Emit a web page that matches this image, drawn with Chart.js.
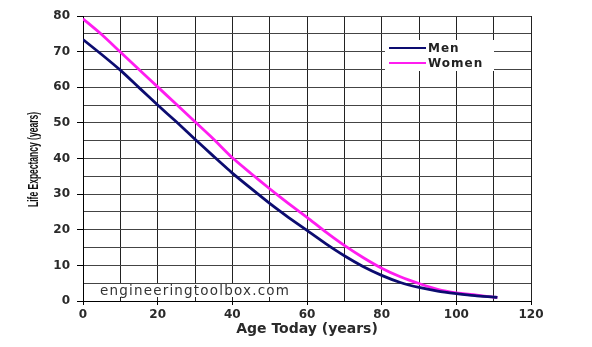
<!DOCTYPE html>
<html>
<head>
<meta charset="utf-8">
<script src="https://cdn.jsdelivr.net/npm/chart.js@4.4.0/dist/chart.umd.min.js"></script>
<style>
html,body{margin:0;padding:0;background:#fff;}
#wrap{width:592px;height:347px;position:relative;}
</style>
</head>
<body>
<div id="wrap"><canvas id="c" width="592" height="347"></canvas></div>
<script>
const ages = [0,5,10,15,20,25,30,35,40,45,50,55,60,65,70,75,80,85,90,95,100,105,110,111];
const men = [73.4,69.2,64.8,59.9,55.0,50.3,45.4,40.6,35.9,31.6,27.4,23.5,19.8,16.1,12.7,9.7,7.2,5.2,3.8,2.8,2.1,1.5,1.1,1.0];
const women = [79.2,74.8,69.9,65.0,60.1,55.2,50.3,45.4,40.2,35.8,31.5,27.4,23.5,19.4,15.6,12.2,9.2,6.8,4.9,3.3,2.3,1.7,1.1,1.0];
const seriesNames = ['Men','Women'];
const xTitle = 'Age Today (years)';
const yTitle = 'Life Expectancy (years)';
const watermark = 'engineeringtoolbox.com';

const decorPlugin = {
  id: 'decor',
  afterDraw(chart) {
    const ctx = chart.ctx;
    const area = chart.chartArea;
    ctx.save();
    // legend inside plot
    ctx.fillStyle = '#fff';
    ctx.fillRect(385, 40, 109, 31);
    chart.data.datasets.forEach((ds, i) => {
      const y = 48 + i * 15;
      ctx.strokeStyle = ds.borderColor;
      ctx.lineWidth = 2;
      ctx.beginPath();
      ctx.moveTo(389, y);
      ctx.lineTo(426, y);
      ctx.stroke();
      ctx.fillStyle = '#222';
      ctx.font = 'bold 12px "DejaVu Sans", Verdana, sans-serif';
      ctx.letterSpacing = '1px';
      ctx.textBaseline = 'middle';
      ctx.textAlign = 'left';
      ctx.fillText(ds.label, 428, y + 1);
    });
    // watermark
    ctx.fillStyle = '#fff';
    ctx.fillRect(97, 284, 203, 13);
    ctx.fillStyle = '#333';
    ctx.font = '13.5px "DejaVu Sans", Verdana, sans-serif';
    ctx.letterSpacing = '0px';
    const w = ctx.measureText(watermark).width;
    const sp = Math.max(0, (190 - w) / watermark.length);
    ctx.letterSpacing = sp.toFixed(2) + 'px';
    ctx.textBaseline = 'alphabetic';
    ctx.fillText(watermark, 100, 295);
    // y title (condensed)
    ctx.letterSpacing = '0px';
    ctx.font = 'bold 14px "Liberation Sans", Arial, sans-serif';
    const tw = ctx.measureText(yTitle).width;
    const sx = 95 / tw;
    ctx.translate(34, (area.top + area.bottom) / 2 + 1);
    ctx.rotate(-Math.PI / 2);
    ctx.scale(sx, 1);
    ctx.fillStyle = '#111';
    ctx.textAlign = 'center';
    ctx.textBaseline = 'middle';
    ctx.fillText(yTitle, 0, 0);
    ctx.restore();
  }
};

const tickFont = {family: '"DejaVu Sans", Verdana, sans-serif', size: 12, weight: 'bold'};

new Chart(document.getElementById('c'), {
  type: 'line',
  data: {
    datasets: [
      {label: seriesNames[0], data: ages.map((a,i)=>({x:a,y:men[i]})), borderColor: '#0c0c70', borderWidth: 2.8, pointRadius: 0, tension: 0.2, fill: false},
      {label: seriesNames[1], data: ages.map((a,i)=>({x:a,y:women[i]})), borderColor: '#ff1cf0', borderWidth: 2.8, pointRadius: 0, tension: 0.2, fill: false}
    ]
  },
  options: {
    responsive: false,
    animation: false,
    devicePixelRatio: 1,
    layout: {padding: {top: 16, right: 61, bottom: 0, left: 0}},
    plugins: {legend: {display: false}, tooltip: {enabled: false}},
    scales: {
      x: {
        type: 'linear', min: 0, max: 120,
        ticks: {stepSize: 10, color: '#2a2a2a', font: tickFont, padding: 3, maxRotation: 0,
          callback: v => (v % 20 === 0 ? String(v) : '')},
        grid: {color: '#222', lineWidth: 1, tickLength: 4,
          tickColor: c => (c.tick && c.tick.value % 20 === 0 ? '#000' : 'rgba(0,0,0,0)')},
        border: {color: '#000', width: 1},
        title: {display: true, text: xTitle, color: '#2a2a2a',
          font: {family: '"DejaVu Sans", Verdana, sans-serif', size: 14, weight: 'bold'},
          padding: {top: 0, bottom: 9}},
        afterFit: s => { s.height = 46; }
      },
      y: {
        min: 0, max: 80,
        ticks: {stepSize: 5, color: '#2a2a2a', font: tickFont, padding: 7,
          callback: v => (v % 10 === 0 ? String(v) : '')},
        grid: {color: '#444', lineWidth: 1, tickLength: 6,
          tickColor: c => (c.tick && c.tick.value % 10 === 0 ? '#000' : 'rgba(0,0,0,0)')},
        border: {color: '#000', width: 1},
        title: {display: false},
        afterFit: s => { s.width = 83; }
      }
    }
  },
  plugins: [decorPlugin]
});
</script>
</body>
</html>
